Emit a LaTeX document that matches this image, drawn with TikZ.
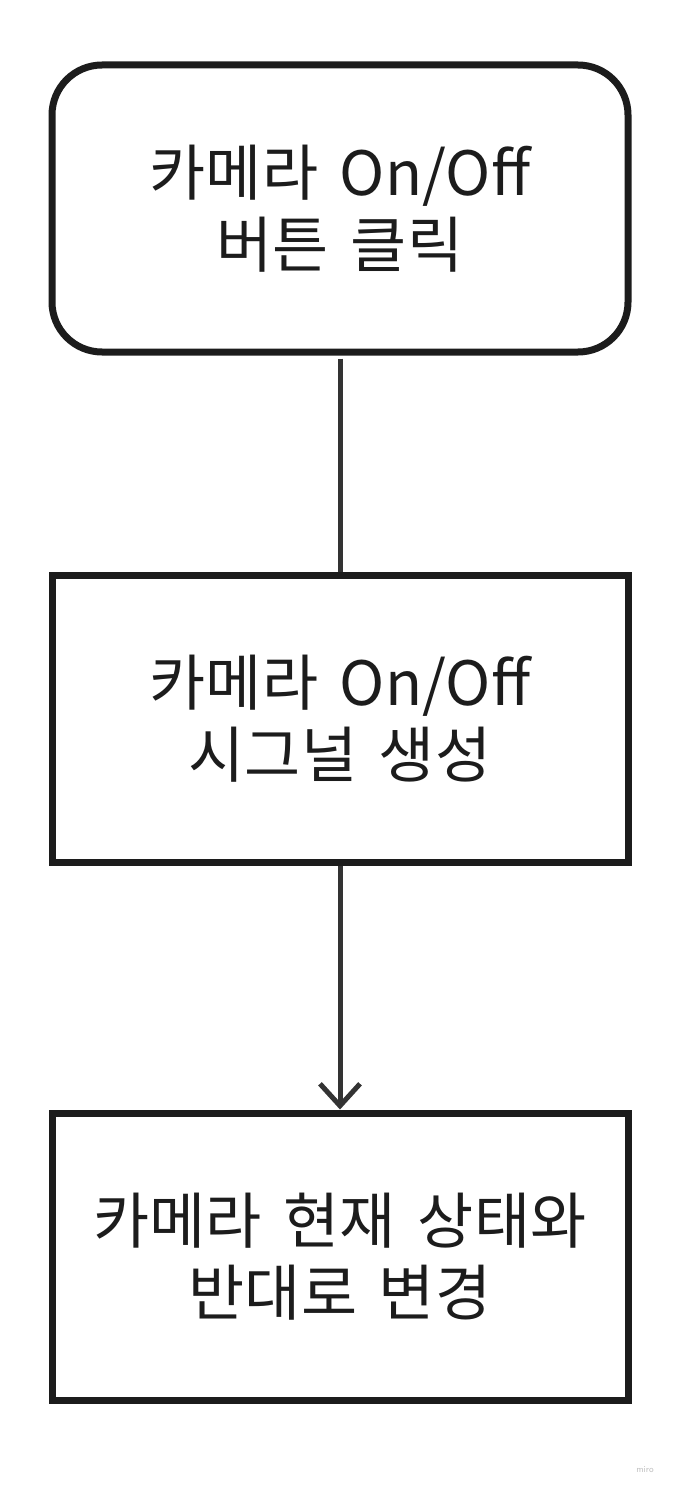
\documentclass[tikz,border=0pt]{standalone}
\usepackage{fontspec}
\usetikzlibrary{arrows.meta}
\newfontfamily\krfont{Noto Sans CJK KR}[WordSpace=1.6]

\definecolor{boxline}{HTML}{1C1C1C}
\definecolor{linkline}{HTML}{333333}

\tikzset{
  stepbox/.style={draw=boxline, line width=7pt, shape=rectangle,
    minimum width=576pt, minimum height=287pt, align=center,
    font=\krfont\fontsize{61pt}{72pt}\selectfont, text=boxline},
  startbox/.style={stepbox, rounded corners=50pt},
  link/.style={draw=linkline, line width=5pt}
}

\begin{document}
\begin{tikzpicture}[x=1pt,y=-1pt]
   \useasboundingbox (0,0) rectangle (672,1487);
   \path (340,208.5) node[startbox] (click) {카메라 On/Off\\버튼 클릭};
   \path (340,718.5) node[stepbox] (signal) {카메라 On/Off\\시그널 생성};
   \path (340,1256.5) node[stepbox] (toggle) {카메라 현재 상태와\\반대로 변경};
   \draw[link, shorten <=3pt] (click.south) -- (signal.north);
   \draw[link, -{Straight Barb[length=22pt,width=40pt]}] (signal.south) -- (toggle.north);
   \path (645,1470) node[text=black!25, font=\sffamily\fontsize{9pt}{10pt}\selectfont] (brand) {miro};
\end{tikzpicture}
\end{document}
